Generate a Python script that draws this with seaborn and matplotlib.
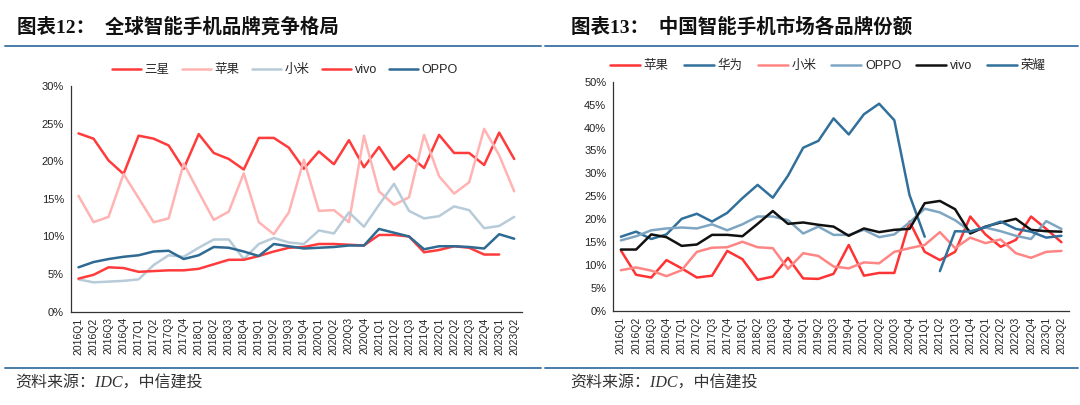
import numpy as np
import pandas as pd
import matplotlib
matplotlib.use("Agg")
import matplotlib.pyplot as plt
import seaborn as sns
from matplotlib.ticker import PercentFormatter, FixedLocator, MultipleLocator
from matplotlib.lines import Line2D

nan = np.nan

quarters = ["2016Q1", "2016Q2", "2016Q3", "2016Q4", "2017Q1", "2017Q2", "2017Q3", "2017Q4",
            "2018Q1", "2018Q2", "2018Q3", "2018Q4", "2019Q1", "2019Q2", "2019Q3", "2019Q4",
            "2020Q1", "2020Q2", "2020Q3", "2020Q4", "2021Q1", "2021Q2", "2021Q3", "2021Q4",
            "2022Q1", "2022Q2", "2022Q3", "2022Q4", "2023Q1", "2023Q2"]

# ---- Global market share (%) ----
g_samsung = [23.7, 23.0, 20.1, 18.3, 23.4, 23.0, 22.1, 19.0, 23.6, 21.1, 20.3, 18.9, 23.1, 23.1, 21.8,
             19.0, 21.3, 19.6, 22.8, 19.2, 21.9, 18.9, 20.8, 19.1, 23.5, 21.1, 21.1, 19.5, 23.8, 20.3]
g_apple = [15.4, 11.9, 12.6, 18.3, 15.1, 11.9, 12.4, 19.7, 15.9, 12.2, 13.3, 18.4, 11.9, 10.3, 13.2,
           20.2, 13.4, 13.5, 11.9, 23.4, 16.0, 14.2, 15.2, 23.5, 18.0, 15.7, 17.2, 24.3, 20.8, 16.0]
g_xiaomi = [4.3, 3.9, 4.0, 4.1, 4.3, 6.2, 7.5, 7.3, 8.5, 9.6, 9.6, 7.0, 9.0, 9.8, 9.2,
            9.0, 10.8, 10.4, 13.2, 11.3, 14.2, 17.0, 13.4, 12.4, 12.7, 14.0, 13.5, 11.1, 11.4, 12.6]
g_vivo = [4.4, 4.9, 5.9, 5.8, 5.3, 5.4, 5.5, 5.5, 5.7, 6.3, 6.9, 6.9, 7.4, 8.0, 8.5,
          8.6, 9.0, 9.0, 8.9, 8.8, 10.2, 10.2, 10.0, 7.9, 8.2, 8.7, 8.5, 7.6, 7.6, nan]
g_oppo = [5.9, 6.6, 7.0, 7.3, 7.5, 8.0, 8.1, 7.0, 7.5, 8.6, 8.5, 8.0, 7.4, 9.0, 8.7,
          8.4, 8.5, 8.6, 8.8, 8.8, 11.0, 10.5, 10.0, 8.3, 8.7, 8.7, 8.6, 8.4, 10.3, 9.7]

# ---- China market share (%) ----
c_apple = [13.2, 7.9, 7.3, 11.1, 9.3, 7.3, 7.7, 13.1, 11.3, 6.8, 7.5, 11.6, 7.1, 7.0, 8.1,
           14.4, 7.7, 8.3, 8.3, 19.5, 12.9, 11.1, 12.9, 20.6, 16.7, 14.0, 15.5, 20.6, 17.9, 15.0]
c_huawei = [16.2, 17.3, 15.7, 16.7, 20.1, 21.2, 19.5, 21.4, 24.6, 27.5, 24.7, 29.5, 35.6, 37.1, 42.0,
            38.5, 42.9, 45.2, 41.6, 25.3, 16.2, nan, nan, nan, nan, nan, nan, nan, nan, nan]
c_xiaomi = [8.9, 9.5, 8.8, 7.6, 8.9, 12.9, 13.8, 13.9, 15.1, 13.9, 13.7, 9.2, 12.6, 12.0, 9.7,
            9.3, 10.6, 10.4, 12.9, 13.7, 14.4, 17.2, 13.7, 16.0, 14.8, 15.6, 12.6, 11.6, 12.9, 13.1]
c_oppo = [15.4, 16.3, 17.6, 18.0, 18.2, 18.0, 18.9, 17.6, 18.9, 20.6, 20.6, 19.8, 16.9, 18.4, 16.6,
          16.6, 17.7, 16.1, 16.7, 19.3, 22.3, 21.5, 19.8, 17.4, 18.2, 17.4, 16.4, 15.7, 19.6, 17.9]
c_vivo = [13.4, 13.4, 16.7, 16.1, 14.2, 14.5, 16.6, 16.6, 16.3, 19.0, 21.8, 19.0, 19.3, 18.8, 18.4,
          16.4, 18.0, 17.2, 17.7, 17.9, 23.5, 24.0, 22.2, 16.9, 18.4, 19.3, 20.1, 17.7, 17.4, 17.3]
c_honor = [nan, nan, nan, nan, nan, nan, nan, nan, nan, nan, nan, nan, nan, nan, nan,
           nan, nan, nan, nan, nan, nan, 8.7, 17.4, 17.3, 18.3, 19.5, 17.9, 17.3, 16.0, 16.4]

left_series = [("三星", g_samsung, "#FF3B3B"), ("苹果", g_apple, "#FFB3B3"),
               ("小米", g_xiaomi, "#B7CBD9"), ("vivo", g_vivo, "#FF3B3B"),
               ("OPPO", g_oppo, "#2E6A92")]
right_series = [("苹果", c_apple, "#FF3333"), ("华为", c_huawei, "#31709B"),
                ("小米", c_xiaomi, "#FF8585"), ("OPPO", c_oppo, "#7EA6C2"),
                ("vivo", c_vivo, "#111111"), ("荣耀", c_honor, "#31709B")]

sns.set_style("white")
plt.rcParams["font.family"] = ["Liberation Sans", "Noto Sans CJK SC"]
plt.rcParams["axes.unicode_minus"] = False

fig = plt.figure(figsize=(10.8, 4.05), dpi=100)
W, H = 1080, 405


def fx(px):
    return px / W


def fy(py):
    return 1 - py / H


def draw(ax, series, ymax, ystep, legend_anchor, handlelength, colspacing):
    idx = np.arange(len(quarters))
    for name, vals, col in series:
        df = pd.DataFrame({"q": idx, "v": vals}).dropna()
        sns.lineplot(data=df, x="q", y="v", ax=ax, color=col, linewidth=1.8, label=name)
    ax.set_xlim(-0.5, len(quarters) - 0.5)
    ax.set_ylim(0, ymax)
    ax.yaxis.set_major_locator(MultipleLocator(ystep))
    ax.yaxis.set_major_formatter(PercentFormatter(decimals=0))
    ax.set_xticks(idx)
    ax.set_xticklabels(quarters, rotation=90)
    ax.xaxis.set_minor_locator(FixedLocator(np.arange(-0.5, len(quarters), 1.0)))
    ax.tick_params(axis="x", which="major", length=0, labelsize=7.5, colors="#222222", pad=4)
    ax.tick_params(axis="x", which="minor", length=3, width=0.8, color="#333333", direction="out")
    ax.tick_params(axis="y", which="major", length=3, width=0.8, labelsize=8, colors="#222222",
                   direction="out", pad=2)
    ax.set_xlabel("")
    ax.set_ylabel("")
    for s in ["top", "right"]:
        ax.spines[s].set_visible(False)
    for s in ["left", "bottom"]:
        ax.spines[s].set_color("#333333")
        ax.spines[s].set_linewidth(0.9)
    h, l = ax.get_legend_handles_labels()
    ax.legend(h, l, loc="center", bbox_to_anchor=legend_anchor, bbox_transform=fig.transFigure,
              ncol=len(series), frameon=False, fontsize=9, handlelength=handlelength,
              handletextpad=0.3, columnspacing=colspacing, borderaxespad=0)


axL = fig.add_axes([fx(71), fy(311.7), fx(521.7 - 71), (311.7 - 86) / H])
draw(axL, left_series, 30, 5, (fx(285), fy(70)), 2.3, 1.0)

axR = fig.add_axes([fx(613.3), fy(311), fx(1069 - 613.3), (311 - 81.7) / H])
draw(axR, right_series, 50, 5, (fx(828), fy(66)), 2.4, 1.2)

title_font = ["Liberation Serif", "Noto Sans CJK SC"]
fig.text(fx(17), fy(27), "图表12：  全球智能手机品牌竞争格局", fontsize=14, fontweight="bold",
         family=title_font, va="center", ha="left", color="#111111")
fig.text(fx(571), fy(27), "图表13：  中国智能手机市场各品牌份额", fontsize=14, fontweight="bold",
         family=title_font, va="center", ha="left", color="#111111")

line_col = "#4A7CA8"
fig.add_artist(Line2D([fx(5), fx(541)], [fy(45.5), fy(45.5)], color=line_col, linewidth=1.4))
fig.add_artist(Line2D([fx(545), fx(1078)], [fy(45.5), fy(45.5)], color=line_col, linewidth=1.4))
fig.add_artist(Line2D([fx(5), fx(541)], [fy(368), fy(368)], color=line_col, linewidth=1.4))
fig.add_artist(Line2D([fx(545), fx(1078)], [fy(368), fy(368)], color=line_col, linewidth=1.4))

fig.text(fx(15), fy(384), "资料来源：IDC，中信建投", fontsize=11.5, style="italic",
         family=title_font, va="center", ha="left", color="#333333")
fig.text(fx(570), fy(384), "资料来源：IDC，中信建投", fontsize=11.5, style="italic",
         family=title_font, va="center", ha="left", color="#333333")

fig.savefig("out.png", dpi=100)
